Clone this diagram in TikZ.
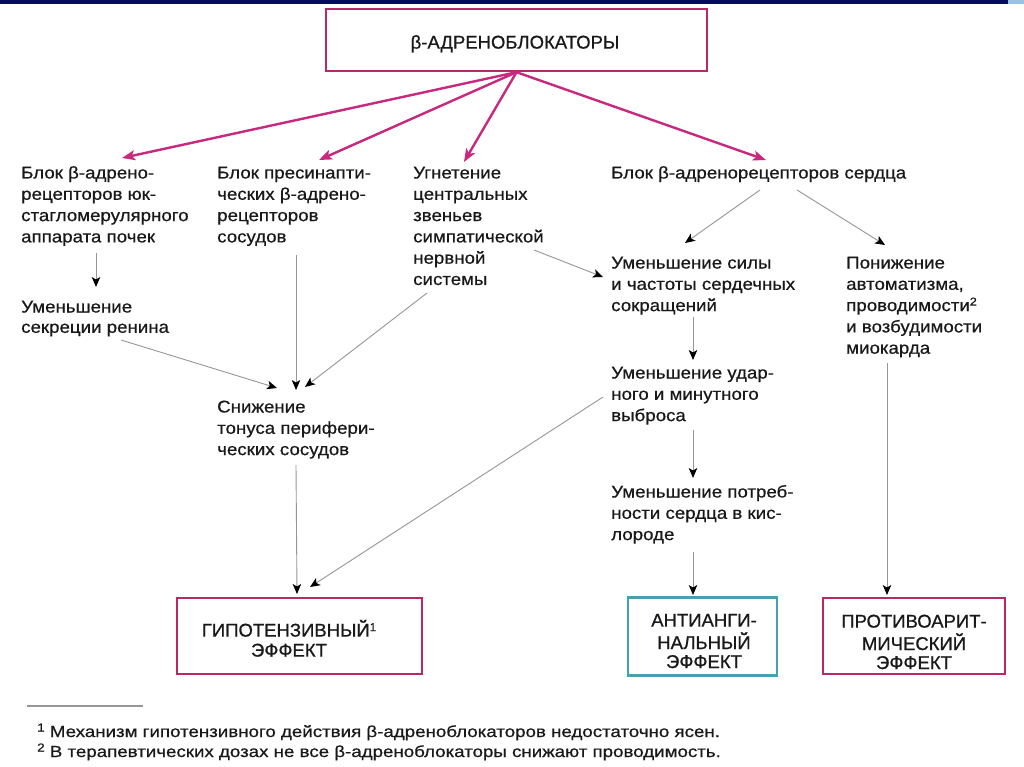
\documentclass[tikz,border=0pt]{standalone}
\usepackage{fontspec}
\setmainfont{Liberation Sans}
\newfontfamily\bodyf[FakeStretch=1.1,FakeBold=0.6]{Liberation Sans}
\newfontfamily\capf[FakeBold=0.8]{Liberation Sans}
\newfontfamily\notef[FakeStretch=1.17,FakeBold=0.6]{Liberation Sans}
\usetikzlibrary{arrows.meta}
\definecolor{navy}{RGB}{5,12,95}
\definecolor{lightblue}{RGB}{150,195,230}
\definecolor{boxpink}{RGB}{185,40,105}
\definecolor{arrpink}{RGB}{200,40,125}
\definecolor{boxteal}{RGB}{70,160,178}
\definecolor{conngray}{RGB}{150,150,150}
\definecolor{txt}{RGB}{25,25,25}
\newcommand\txtl[1]{\begin{tabular}[t]{@{}l@{}}#1\end{tabular}}
\newcommand\txtc[1]{\begin{tabular}[t]{@{}c@{}}#1\end{tabular}}
\newcommand\supr[1]{\raisebox{5.5pt}{\fontsize{11.5}{11.5}\selectfont #1}}
\tikzset{
  body/.style={font=\bodyf\fontsize{17}{21.3}\selectfont, text=txt, inner sep=0pt, anchor=base west},
  capt/.style={font=\capf\fontsize{18.5}{19}\selectfont, text=txt, inner sep=0pt, anchor=base},
  notet/.style={font=\notef\fontsize{16}{20}\selectfont, text=txt, inner sep=0pt, anchor=base west},
  pinkbox/.style={draw=boxpink, line width=2.4pt, inner sep=0pt},
  tealbox/.style={draw=boxteal, line width=2.4pt, inner sep=0pt},
  pinkarr/.style={draw=arrpink, line width=2.4pt, -{Stealth[length=13pt,width=10pt,inset=3pt]}},
  grayarr/.style={draw=conngray, line width=0.9pt, -{Stealth[length=10pt,width=8.5pt,inset=2.5pt,color=black]}}
}
\begin{document}
\begin{tikzpicture}[x=1pt,y=-1pt]
\path[use as bounding box, fill=white] (0,0) rectangle (1024,767);
\fill[navy] (0,0) rectangle (1008,4.5);
\fill[lightblue] (1008,0) rectangle (1024,4.5);

% boxes
\node[pinkbox, minimum width=381pt, minimum height=62pt] (top) at (516.5,40) {};
\node[pinkbox, minimum width=245pt, minimum height=76pt] (b1) at (299.5,636) {};
\node[tealbox, minimum width=149pt, minimum height=78pt] (b2) at (702.5,636.5) {};
\node[pinkbox, minimum width=182pt, minimum height=76pt] (b3) at (914,636) {};

\node[capt] (c0) at (515,48.6) {β-АДРЕНОБЛОКАТОРЫ};
\node[capt, font=\capf\fontsize{18.5}{20}\selectfont] (c1) at (289,636.6) {\txtc{ГИПОТЕНЗИВНЫЙ\supr{1}\\ЭФФЕКТ}};
\node[capt] (c2) at (704,626.6) {\txtc{АНТИАНГИ-\\НАЛЬНЫЙ\\ЭФФЕКТ}};
\node[capt] (c3) at (914,627.6) {\txtc{ПРОТИВОАРИТ-\\МИЧЕСКИЙ\\ЭФФЕКТ}};

% text blocks
\node[body] (n1) at (21,178.5) {\txtl{Блок β-адрено-\\рецепторов юк-\\стагломерулярного\\аппарата почек}};
\node[body, font=\bodyf\fontsize{17}{20.3}\selectfont] (n2) at (21,312.5) {\txtl{Уменьшение\\секреции ренина}};
\node[body] (n3) at (217,178.5) {\txtl{Блок пресинапти-\\ческих β-адрено-\\рецепторов\\сосудов}};
\node[body] (n4) at (413,178.5) {\txtl{Угнетение\\центральных\\звеньев\\симпатической\\нервной\\системы}};
\node[body] (n5) at (611,178.5) {Блок β-адренорецепторов сердца};
\node[body] (n6) at (611,268.5) {\txtl{Уменьшение силы\\и частоты сердечных\\сокращений}};
\node[body] (n7) at (846,268.5) {\txtl{Понижение\\автоматизма,\\проводимости\supr{2}\\и возбудимости\\миокарда}};
\node[body] (n8) at (611,378.5) {\txtl{Уменьшение удар-\\ного и минутного\\выброса}};
\node[body] (n9) at (611,497.5) {\txtl{Уменьшение потреб-\\ности сердца в кис-\\лороде}};
\node[body] (n10) at (217,412.5) {\txtl{Снижение\\тонуса перифери-\\ческих сосудов}};

% pink arrows
\coordinate (t1) at (122,158);
\coordinate (t2) at (319,160);
\coordinate (t3) at (464,162);
\coordinate (t4) at (766,160);
\draw[pinkarr] (top.south) -- (t1);
\draw[pinkarr] (top.south) -- (t2);
\draw[pinkarr] (top.south) -- (t3);
\draw[pinkarr] (top.south) -- (t4);

% gray connectors
\coordinate (s1) at (96,253);  \coordinate (e1) at (96,287);
\coordinate (s2) at (121,340); \coordinate (e2) at (277,388);
\coordinate (s3) at (296,255); \coordinate (e3) at (296,390);
\coordinate (s4) at (427,293); \coordinate (e4) at (305,387);
\coordinate (s5) at (534,250); \coordinate (e5) at (603,277);
\coordinate (s6) at (760,190); \coordinate (e6) at (685,243);
\coordinate (s7) at (797,190); \coordinate (e7) at (885,245);
\coordinate (s8) at (693,317); \coordinate (e8) at (693,360);
\coordinate (s9) at (693,430); \coordinate (e9) at (693,478);
\coordinate (s10) at (693,552); \coordinate (e10) at (693,595);
\coordinate (s11) at (296,465); \coordinate (e11) at (297,594);
\coordinate (s12) at (603,397); \coordinate (e12) at (310,587);
\coordinate (s13) at (887,363); \coordinate (e13) at (887,595);
\foreach \i in {1,...,13} {\draw[grayarr] (s\i) -- (e\i);}

% footnotes
\draw[conngray, line width=1.2pt] (27,706) -- (143,706);
\node[notet] (f1) at (37,737) {\supr{1} Механизм гипотензивного действия β-адреноблокаторов недостаточно ясен.};
\node[notet] (f2) at (37,757) {\supr{2} В терапевтических дозах не все β-адреноблокаторы снижают проводимость.};
\end{tikzpicture}
\end{document}
